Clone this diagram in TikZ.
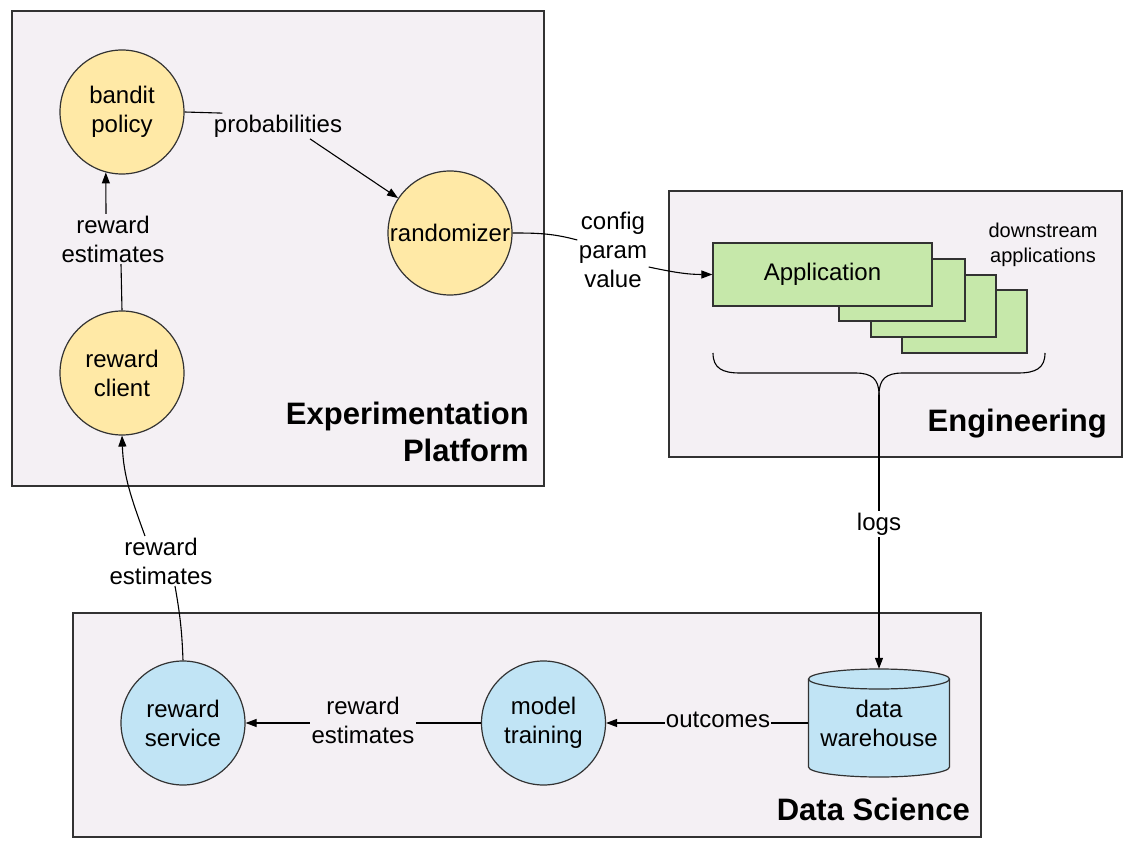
\documentclass[tikz,border=0pt]{standalone}
\usepackage{fontspec}
\setmainfont{Liberation Sans}
\usetikzlibrary{arrows.meta,calc}
\definecolor{boxfill}{RGB}{244,240,244}
\definecolor{bordc}{RGB}{50,50,50}
\definecolor{yellowc}{RGB}{255,233,166}
\definecolor{greenc}{RGB}{198,232,170}
\definecolor{bluec}{RGB}{193,228,245}
\newcommand\lblfont{\fontsize{24}{29}\selectfont}
\newcommand\smallfont{\fontsize{20}{25}\selectfont}
\newcommand\headfont{\fontsize{31}{37}\selectfont\bfseries}
\begin{document}
\begin{tikzpicture}[x=1pt,y=1pt,
 region/.style={rectangle, draw=bordc, fill=boxfill, line width=1.3pt, inner sep=0pt},
 ycirc/.style={circle, draw=bordc, fill=yellowc, line width=1.2pt, minimum size=124pt, inner sep=0pt, align=center, font=\lblfont},
 bcirc/.style={ycirc, fill=bluec},
 appbox/.style={rectangle, draw=bordc, fill=greenc, line width=1.2pt, inner sep=0pt, font=\lblfont},
 edgelbl/.style={inner sep=1.5pt, align=center, font=\lblfont},
 headlbl/.style={inner sep=0pt, align=right, font=\headfont, anchor=east},
 conn/.style={line width=1.1pt, draw=black},
 arr/.style={conn, -{Triangle[length=11pt,width=8pt]}}
]
\useasboundingbox[fill=white] (0,0) rectangle (1133,-850);

% regions
\node[region, minimum width=532pt, minimum height=475pt] (expbox) at (278,-248.5) {};
\node[region, minimum width=453pt, minimum height=266pt] (engbox) at (895.5,-324) {};
\node[region, minimum width=908pt, minimum height=224pt] (dsbox) at (527,-725) {};

\node[headlbl] (explbl) at (529,-432) {Experimentation\\Platform};
\node[headlbl] (englbl) at (1107,-424) {Engineering};
\node[headlbl] (dslbl) at (970,-809) {Data Science};

% experimentation platform
\node[ycirc] (bandit) at (122,-112) {bandit\\policy};
\node[ycirc] (rand) at (450,-233) {randomizer};
\node[ycirc] (rclient) at (122,-373) {reward\\client};

\node[edgelbl] (problbl) at (278,-126) {probabilities};
\node[edgelbl] (relbla) at (113,-239) {reward\\estimates};

\draw[conn] (bandit.east) -- ([xshift=10pt]problbl.north west);
\draw[arr] ([xshift=32pt]problbl.south) -- (rand);
\draw[arr] ([xshift=-7pt]relbla.north) -- (bandit.-105);
\draw[conn] (rclient.north) -- ([xshift=8pt]relbla.south);

% engineering
\node[appbox, minimum width=125pt, minimum height=63pt] (appd) at (964.5,-321.5) {};
\node[appbox, minimum width=125pt, minimum height=62pt] (appc) at (933.5,-306) {};
\node[appbox, minimum width=126pt, minimum height=62pt] (appb) at (902,-290) {};
\node[appbox, minimum width=219pt, minimum height=63pt] (app) at (822.5,-274.5) {Application};
\node[edgelbl, font=\smallfont] (downlbl) at (1043,-245) {downstream\\applications};

\node[edgelbl] (cfglbl) at (613,-250) {config\\param\\value};
\draw[conn] (rand.east) to[out=0,in=165] ([yshift=10pt]cfglbl.west);
\draw[arr] ([yshift=-17pt]cfglbl.east) to[out=-12,in=180] (app.west);

% brace
\coordinate (bracetip) at (879,-395);
\draw[conn] (713,-353) .. controls (713,-368) and (722,-373) .. (740,-373) -- (855,-373) .. controls (872,-373) and (879,-379) .. (bracetip);
\draw[conn] (1045,-353) .. controls (1045,-368) and (1036,-373) .. (1018,-373) -- (903,-373) .. controls (886,-373) and (879,-379) .. (bracetip);

% data science
\fill[bluec] (808.5,-679) -- (808.5,-767) arc[start angle=180,end angle=360,x radius=70.5,y radius=10] -- (949.5,-679) arc[start angle=0,end angle=180,x radius=70.5,y radius=10] -- cycle;
\draw[bordc, line width=1.2pt] (808.5,-679) -- (808.5,-767) arc[start angle=180,end angle=360,x radius=70.5,y radius=10] -- (949.5,-679);
\draw[bordc, line width=1.2pt] (879,-679) ellipse[x radius=70.5, y radius=10];
\node[edgelbl, inner sep=0pt, minimum width=141pt, minimum height=108pt] (dw) at (879,-723) {data\\warehouse};

\node[bcirc] (rservice) at (183,-723) {reward\\service};
\node[bcirc] (model) at (543.5,-723) {model\\training};

\node[edgelbl] (logslbl) at (879,-524) {logs};
\draw[conn] (bracetip) -- (logslbl.north);
\draw[arr] (logslbl.south) -- (dw.north);

\node[edgelbl, inner sep=1pt] (outlbl) at (718,-720) {outcomes};
\draw[conn] (dw.west) -- (dw.west -| outlbl.east);
\draw[arr] (outlbl.west |- model.east) -- (model.east);

\node[edgelbl] (relblb) at (363,-720) {reward\\estimates};
\draw[conn] (model.west) -- (model.west -| relblb.east);
\draw[arr] (relblb.west |- rservice.east) -- (rservice.east);

\node[edgelbl] (relblc) at (161,-561) {reward\\estimates};
\draw[conn] (rservice.north) to[out=92,in=-80] ([xshift=14pt]relblc.south);
\draw[arr] ([xshift=-16pt]relblc.north) to[out=110,in=-88] (rclient.south);
\end{tikzpicture}
\end{document}
